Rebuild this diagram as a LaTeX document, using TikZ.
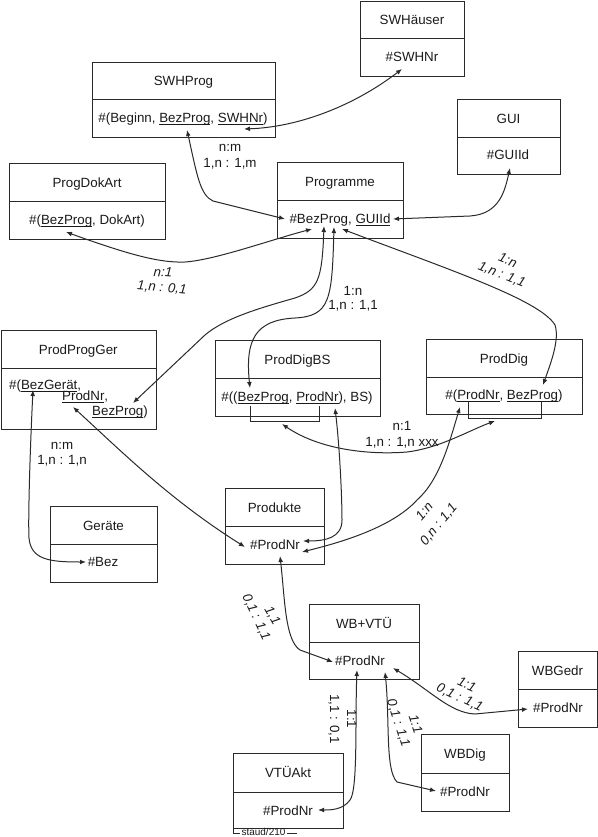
\documentclass[tikz,border=0pt]{standalone}
\usepackage{fontspec}
\setmainfont{Liberation Sans}
\usetikzlibrary{arrows.meta}
\definecolor{ln}{HTML}{2A2A2A}
\definecolor{tx}{HTML}{1A1A1A}
\newcommand\fs{\fontsize{13.4}{15}\selectfont}
\newcommand\ul[1]{\setbox0\hbox{#1}\rlap{\rule[-2.3bp]{\wd0}{0.7bp}}\box0}
\newcommand\ent[7]{%
  \node[ebox, minimum width={(#4-#2)*1bp}, minimum height={(#5-#3)*1bp}] (#1) at (#2,#3) {};
  \node[ebox, minimum width={(#4-#2)*1bp}, minimum height={(#6-#5)*1bp}] (#1-b) at (#2,#5) {};
  \node[txt] (#1-t) at ({(#2+#4)/2},{(#3+#5)/2+0.5}) {#7};
}
\tikzset{
  ebox/.style={draw=ln, line width=1.15bp, inner sep=0, anchor=north west},
  txt/.style={text=tx, font=\fs, inner sep=0, text height=9.6bp, text depth=0bp},
  lab/.style={text=tx, font=\fs, inner sep=0, text height=9.6bp, text depth=0bp},
  itl/.style={lab, font=\fs\itshape},
  conn/.style={draw=ln, line width=1bp, <->},
  >={Latex[length=6bp,width=4.8bp]}
}
\begin{document}
\begin{tikzpicture}[x=1bp,y=-1bp]
\useasboundingbox (0,0) rectangle (598,837);
% entities
\ent{swh}{360}{0.6}{464}{38}{76}{SWHäuser}
\ent{swhprog}{92}{62}{275}{99}{137}{SWHProg}
\ent{gui}{457}{99}{560}{137}{174}{GUI}
\ent{pda}{9}{163}{165}{201}{239}{ProgDokArt}
\ent{prog}{277}{162}{403}{200}{238}{Programme}
\ent{ppg}{0.6}{330}{156}{368}{429}{ProdProgGer}
\ent{pdbs}{215}{340}{380}{378}{416}{ProdDigBS}
\ent{pd}{426}{339}{582}{377}{414}{ProdDig}
\ent{ger}{50}{506}{157}{544}{582}{Geräte}
\ent{prod}{225}{488}{324}{526}{564}{Produkte}
\ent{wb}{309}{604}{419}{642}{679}{WB+VTÜ}
\ent{wbg}{518}{651}{597}{689}{727}{WBGedr}
\ent{wbd}{421}{734}{509}{773}{811}{WBDig}
\ent{vtue}{233}{753}{343}{792}{828}{VTÜAkt}
% body texts
\node[txt] (swh-x) at (412,57) {\#SWHNr};
\node[txt] (swhprog-x) at (183,118) {\#(Beginn, \ul{BezProg}, \ul{SWHNr})};
\node[txt] (gui-x) at (508,155) {\#GUIId};
\node[txt] (pda-x) at (87,220) {\#(\ul{BezProg}, DokArt)};
\node[txt] (prog-x) at (340,219) {\#BezProg, \ul{GUIId}};
\node[txt, anchor=west] (ppg-x1) at (9,385) {\#(\ul{BezGerät},};
\node[txt, anchor=west] (ppg-x2) at (62,396) {\ul{ProdNr},};
\node[txt, anchor=west] (ppg-x3) at (92,411) {\ul{BezProg})};
\node[txt] (pdbs-x) at (297,397) {\#((\ul{BezProg}, \ul{ProdNr}), BS)};
\node[txt] (pd-x) at (504,395) {\#(\ul{ProdNr}, \ul{BezProg})};
\node[txt] (ger-x) at (103,562) {\#Bez};
\node[txt] (prod-x) at (275,545) {\#ProdNr};
\node[txt] (wb-x) at (360,661) {\#ProdNr};
\node[txt] (wbg-x) at (558,708) {\#ProdNr};
\node[txt] (wbd-x) at (465,792) {\#ProdNr};
\node[txt] (vtue-x) at (288,811) {\#ProdNr};
% staud label
\draw[ln, line width=0.8bp] (233,828) -- (233,833) -- (240,833);
\draw[ln, line width=0.8bp] (287,833) -- (297,833);
\node[text=tx, font=\fontsize{10}{11}\selectfont, inner sep=0] (staud) at (263.5,832) {staud/210};
% brackets
\draw[ln, line width=1bp] (250,406) -- (250,421) -- (319,421) -- (319,406);
\draw[ln, line width=1bp] (468,402) -- (468,418) -- (541,418) -- (541,402);
% connector end points
\coordinate (swh-nr) at (402,69);
\coordinate (swhprog-swhnr) at (244,129);
\coordinate (swhprog-bez) at (187,130);
\coordinate (prog-l) at (285,219);
\coordinate (pda-bez) at (66,232);
\coordinate (prog-b1) at (312,229);
\coordinate (prog-b2) at (324,226);
\coordinate (prog-b3) at (334,227);
\coordinate (prog-b4) at (342,229);
\coordinate (prog-gui) at (393,219);
\coordinate (gui-id) at (510,168);
\coordinate (ppg-bezprog) at (133,403);
\coordinate (ppg-bezger) at (33,390);
\coordinate (ppg-prodnr) at (73,407);
\coordinate (pdbs-bez) at (250,388);
\coordinate (pdbs-prodnr) at (335,408);
\coordinate (pdbs-br) at (282,424);
\coordinate (pd-bez) at (543,385);
\coordinate (pd-prodnr) at (460,407);
\coordinate (pd-br) at (495,421);
\coordinate (ger-bez) at (86,562);
\coordinate (prod-l) at (245,547);
\coordinate (prod-r1) at (303,541);
\coordinate (prod-r2) at (302,552);
\coordinate (prod-bot) at (280,556);
\coordinate (wb-l) at (333,662);
\coordinate (wb-b1) at (357,670);
\coordinate (wb-b2) at (385,672);
\coordinate (wb-r) at (393,668);
\coordinate (vtue-nr) at (318,810);
\coordinate (wbd-nr) at (436,791);
\coordinate (wbg-nr) at (528,709);
% connectors
\draw[conn] (swhprog-swhnr) .. controls (300,127) and (355,105) .. (swh-nr);
\draw[conn] (swhprog-bez) .. controls (197,175) and (200,195) .. (213,201) -- (prog-l);
\draw[conn] (pda-bez) .. controls (130,255) and (160,263) .. (185,262) .. controls (215,260) and (270,240) .. (prog-b1);
\draw[conn] (prog-b2) .. controls (322,280) and (318,290) .. (295,298) .. controls (260,308) and (225,318) .. (205,335) -- (ppg-bezprog);
\draw[conn] (prog-b3) .. controls (332,300) and (330,316) .. (295,318) .. controls (255,320) and (245,340) .. (pdbs-bez);
\draw[conn] (prog-b4) .. controls (450,270) and (540,300) .. (555,325) .. controls (560,340) and (550,365) .. (pd-bez);
\draw[conn] (prog-gui) -- (470,216) .. controls (500,214) and (505,190) .. (gui-id);
\draw[conn] (ppg-bezger) .. controls (30,450) and (28,520) .. (29,538) .. controls (31,560) and (50,562) .. (ger-bez);
\draw[conn] (ppg-prodnr) .. controls (120,450) and (170,500) .. (prod-l);
\draw[conn] (pdbs-prodnr) .. controls (340,450) and (342,500) .. (342,520) .. controls (342,538) and (325,541) .. (prod-r1);
\draw[conn] (pdbs-br) .. controls (320,450) and (370,455) .. (407,452) .. controls (440,448) and (470,430) .. (pd-br);
\draw[conn] (pd-prodnr) .. controls (450,440) and (440,480) .. (417,500) .. controls (390,530) and (330,545) .. (prod-r2);
\draw[conn] (prod-bot) .. controls (285,600) and (285,640) .. (300,650) -- (wb-l);
\draw[conn] (wb-b1) .. controls (355,720) and (358,790) .. (350,800) .. controls (343,810) and (330,810) .. (vtue-nr);
\draw[conn] (wb-b2) .. controls (390,720) and (385,770) .. (397,782) -- (wbd-nr);
\draw[conn] (wb-r) .. controls (430,690) and (450,713) .. (475,714) -- (wbg-nr);
% labels
\node[lab] (l1a) at (230,147) {n:m};
\node[lab] (l1b) at (230,163) {1,n : 1,m};
\node[itl, rotate=-4] (l2a) at (163,272) {n:1};
\node[itl, rotate=-5] (l2b) at (162,287) {1,n : 0,1};
\node[lab] (l3a) at (353,291) {1:n};
\node[lab] (l3b) at (353,305) {1,n : 1,1};
\node[itl, rotate=-22] (l4a) at (508,260) {1:n};
\node[itl, rotate=-22] (l4b) at (502,274) {1,n : 1,1};
\node[lab] (l5a) at (62,445) {n:m};
\node[lab] (l5b) at (62,460) {1,n : 1,n};
\node[lab] (l6a) at (402,426) {n:1};
\node[lab] (l6b) at (402,442) {1,n : 1,n xxx};
\node[itl, rotate=50] (l7a) at (424,511) {1:n};
\node[itl, rotate=50] (l7b) at (438,524) {0,n : 1,1};
\node[itl, rotate=-60] (l8a) at (273,615) {1,1};
\node[itl, rotate=-65] (l8b) at (257,617) {0,1 : 1,1};
\node[lab, rotate=-90] (l9a) at (352,719) {1:1};
\node[lab, rotate=-90] (l9b) at (335,719) {1,1 : 0,1};
\node[itl, rotate=-72] (l10a) at (416,724) {1:1};
\node[itl, rotate=-72] (l10b) at (399,723) {0,1 : 1,1};
\node[itl, rotate=-25] (l11a) at (467,684) {1:1};
\node[itl, rotate=-25] (l11b) at (460,697) {0,1 : 1,1};
\end{tikzpicture}
\end{document}
